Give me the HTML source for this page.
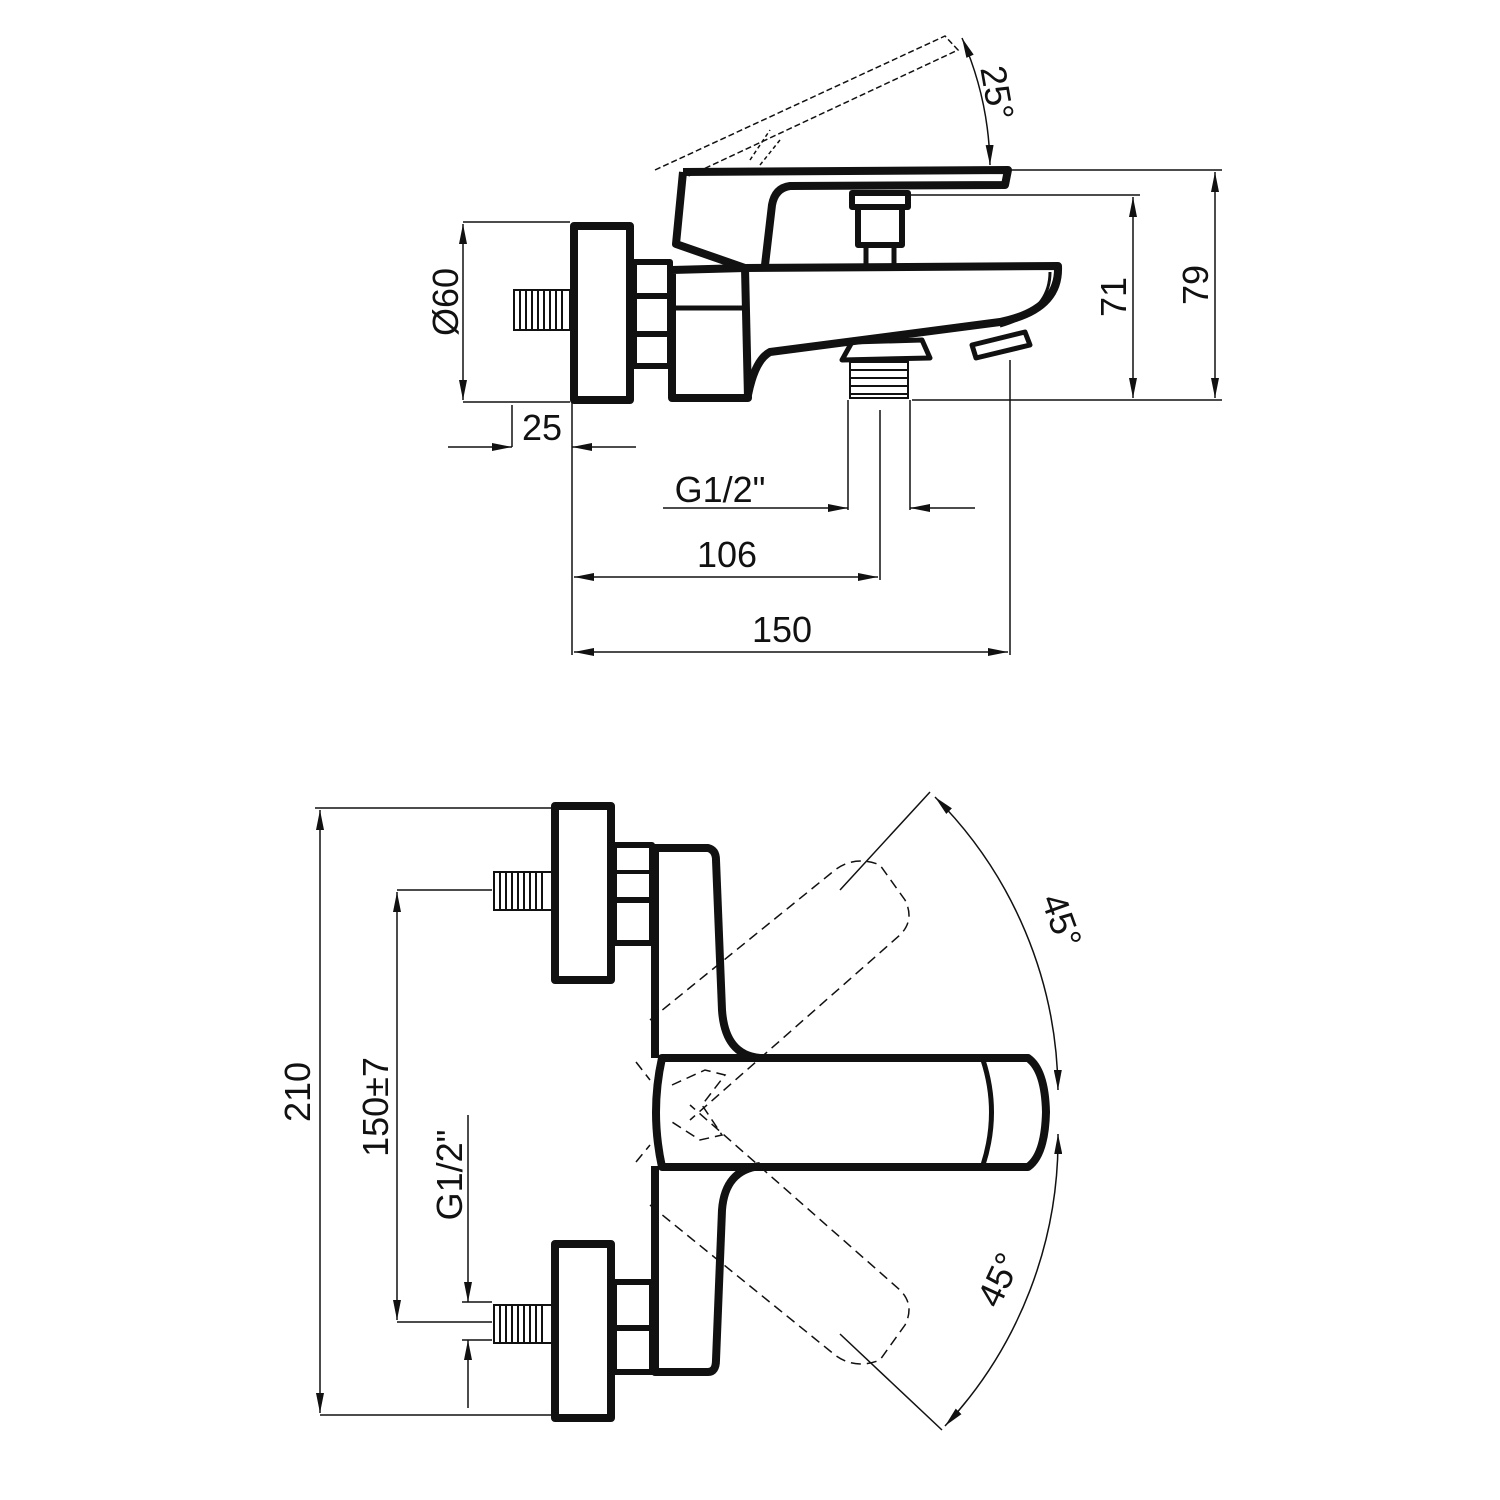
<!DOCTYPE html>
<html><head><meta charset="utf-8"><style>html,body{margin:0;padding:0;background:#fff}svg{display:block}text{font-family:"Liberation Sans",sans-serif;font-size:36px;fill:#111}</style></head>
<body>
<svg width="1500" height="1500" viewBox="0 0 1500 1500" xmlns="http://www.w3.org/2000/svg">
<defs>
<marker id="a" viewBox="0 0 20 8" refX="20" refY="4" markerWidth="20" markerHeight="8" markerUnits="userSpaceOnUse" orient="auto-start-reverse"><path d="M0,0 L20,4 L0,8 z" fill="#111"/></marker>
</defs>
<g stroke="#111" stroke-width="1.5" fill="none">
<line x1="463" y1="222" x2="570" y2="222"/><line x1="463" y1="402" x2="570" y2="402"/>
<line x1="463" y1="224" x2="463" y2="400" marker-start="url(#a)" marker-end="url(#a)"/>
<line x1="512" y1="405" x2="512" y2="447"/><line x1="572" y1="402" x2="572" y2="655"/>
<line x1="448" y1="447" x2="512" y2="447" marker-end="url(#a)"/><line x1="636" y1="447" x2="572" y2="447" marker-end="url(#a)"/>
<line x1="848" y1="400" x2="848" y2="510"/><line x1="910" y1="400" x2="910" y2="510"/>
<line x1="663" y1="508" x2="848" y2="508" marker-end="url(#a)"/><line x1="975" y1="508" x2="910" y2="508" marker-end="url(#a)"/>
<line x1="880" y1="410" x2="880" y2="580"/>
<line x1="574" y1="577" x2="878" y2="577" marker-start="url(#a)" marker-end="url(#a)"/>
<line x1="1010" y1="360" x2="1010" y2="655"/>
<line x1="574" y1="652" x2="1008" y2="652" marker-start="url(#a)" marker-end="url(#a)"/>
<line x1="910" y1="195" x2="1140" y2="195"/><line x1="1008" y1="170" x2="1222" y2="170"/><line x1="912" y1="400" x2="1222" y2="400"/>
<line x1="1133" y1="197" x2="1133" y2="398" marker-start="url(#a)" marker-end="url(#a)"/>
<line x1="1215" y1="172" x2="1215" y2="398" marker-start="url(#a)" marker-end="url(#a)"/>
<path d="M962,38 A330,330 0 0 1 990,165" marker-start="url(#a)" marker-end="url(#a)"/>
<path d="M655,170 L945,36 L958,50 L680,180" stroke-dasharray="6,3"/>
<path d="M750,160 L770,130 M760,165 L780,140" stroke-dasharray="4,3"/>
</g>
<g stroke="#111" stroke-width="8" fill="none" stroke-linejoin="round">
<rect x="574" y="226" width="56" height="174"/>
<rect x="634" y="262" width="36" height="104" stroke-width="6"/>
<line x1="634" y1="296" x2="670" y2="296" stroke-width="6"/><line x1="634" y1="334" x2="670" y2="334" stroke-width="6"/>
<path d="M672,270 L745,268 L748,398 L672,398 Z"/>
<line x1="672" y1="308" x2="745" y2="308" stroke-width="5"/>
<path d="M745,268 L1058,266 Q1060,310 1000,322 L770,352 Q755,360 748,395"/>
<path d="M1050,272 Q1050,312 1000,326" stroke-width="3"/>
<path d="M683,172 L1008,170 L1005,185 L790,186 Q775,188 772,205 L765,265"/>
<path d="M683,172 L676,244 L745,268"/>
<rect x="852" y="193" width="56" height="14" stroke-width="6"/>
<rect x="858" y="207" width="44" height="38" stroke-width="6"/>
<line x1="866" y1="245" x2="866" y2="265" stroke-width="5"/><line x1="894" y1="245" x2="894" y2="265" stroke-width="5"/>
<path d="M842,360 L852,342 L922,340 L930,358 Z" stroke-width="5"/>
<path d="M972,345 L1025,332 L1030,345 L976,358 Z" stroke-width="5"/>
</g>
<g stroke="#111" stroke-width="2" fill="none">
<rect x="514" y="290" width="56" height="40"/>
<path d="M520,290v40M526,290v40M532,290v40M538,290v40M544,290v40M550,290v40M556,290v40M562,290v40"/>
<rect x="850" y="362" width="58" height="36"/>
<path d="M850,370h58M850,378h58M850,386h58M850,394h58"/>
</g>
<text x="720" y="502" text-anchor="middle">G1/2"</text>
<text x="727" y="567" text-anchor="middle">106</text>
<text x="782" y="642" text-anchor="middle">150</text>
<text x="542" y="440" text-anchor="middle">25</text>
<text transform="translate(458,302) rotate(-90)" text-anchor="middle">Ø60</text>
<text transform="translate(1126,297) rotate(-90)" text-anchor="middle">71</text>
<text transform="translate(1208,285) rotate(-90)" text-anchor="middle">79</text>
<text transform="translate(985,95) rotate(80)" text-anchor="middle">25°</text>

<g stroke="#111" stroke-width="1.5" fill="none">
<line x1="315" y1="808" x2="551" y2="808"/><line x1="320" y1="1415" x2="551" y2="1415"/>
<line x1="320" y1="810" x2="320" y2="1413" marker-start="url(#a)" marker-end="url(#a)"/>
<line x1="397" y1="890" x2="492" y2="890"/><line x1="397" y1="1322" x2="492" y2="1322"/>
<line x1="397" y1="892" x2="397" y2="1320" marker-start="url(#a)" marker-end="url(#a)"/>
<line x1="468" y1="1115" x2="468" y2="1302" marker-end="url(#a)"/>
<line x1="468" y1="1408" x2="468" y2="1340" marker-end="url(#a)"/>
<line x1="462" y1="1302" x2="492" y2="1302"/><line x1="462" y1="1340" x2="492" y2="1340"/>
<line x1="840" y1="890" x2="930" y2="792"/><line x1="840" y1="1334" x2="942" y2="1430"/>
<path d="M935,797 A420,420 0 0 1 1058,1090" marker-start="url(#a)" marker-end="url(#a)"/>
<path d="M1058,1134 A420,420 0 0 1 945,1426" marker-start="url(#a)" marker-end="url(#a)"/>
<g stroke-dasharray="10,6">
<path d="M650,1020 L835,870 Q855,855 880,865 L905,900 Q915,920 900,935 L690,1120 M636,1062 L650,1080"/>
<path d="M650,1205 L835,1355 Q855,1370 880,1360 L905,1325 Q915,1305 900,1290 L690,1105 M636,1162 L650,1145"/>
<path d="M672,1085 L705,1070 L725,1075 L702,1105 L722,1135 L700,1140 L672,1122"/>
</g>
</g>
<g stroke="#111" stroke-width="8" fill="none" stroke-linejoin="round">
<rect x="555" y="806" width="56" height="174"/>
<rect x="555" y="1244" width="56" height="174"/>
<rect x="614" y="845" width="38" height="98" stroke-width="6"/>
<line x1="614" y1="872" x2="652" y2="872" stroke-width="4"/><line x1="614" y1="900" x2="652" y2="900" stroke-width="6"/>
<rect x="614" y="1282" width="38" height="90" stroke-width="6"/>
<line x1="614" y1="1328" x2="652" y2="1328" stroke-width="6"/>
<path d="M655,1058 L655,848 L708,848 Q716,850 716,860 L722,1010 Q725,1055 760,1058"/>
<path d="M760,1166 Q725,1170 722,1210 L716,1360 Q716,1372 708,1372 L655,1372 L655,1166"/>
<path d="M662,1058 L1028,1058 Q1045,1070 1046,1112 Q1045,1155 1028,1167 L662,1167 Q650,1112 662,1058 Z"/>
<path d="M983,1060 Q1000,1112 983,1165" stroke-width="5"/>
</g>
<g stroke="#111" stroke-width="2" fill="none">
<rect x="494" y="872" width="58" height="38"/>
<path d="M500,872v38M506,872v38M512,872v38M518,872v38M524,872v38M530,872v38M536,872v38M542,872v38"/>
<rect x="494" y="1305" width="58" height="38"/>
<path d="M500,1305v38M506,1305v38M512,1305v38M518,1305v38M524,1305v38M530,1305v38M536,1305v38M542,1305v38"/>
</g>
<text transform="translate(310,1092) rotate(-90)" text-anchor="middle">210</text>
<text transform="translate(388,1107) rotate(-90)" text-anchor="middle">150±7</text>
<text transform="translate(462,1175) rotate(-90)" text-anchor="middle">G1/2"</text>
<text transform="translate(1050,925) rotate(70)" text-anchor="middle">45°</text>
<text transform="translate(1010,1285) rotate(-65)" text-anchor="middle">45°</text>
</svg>
</body></html>
